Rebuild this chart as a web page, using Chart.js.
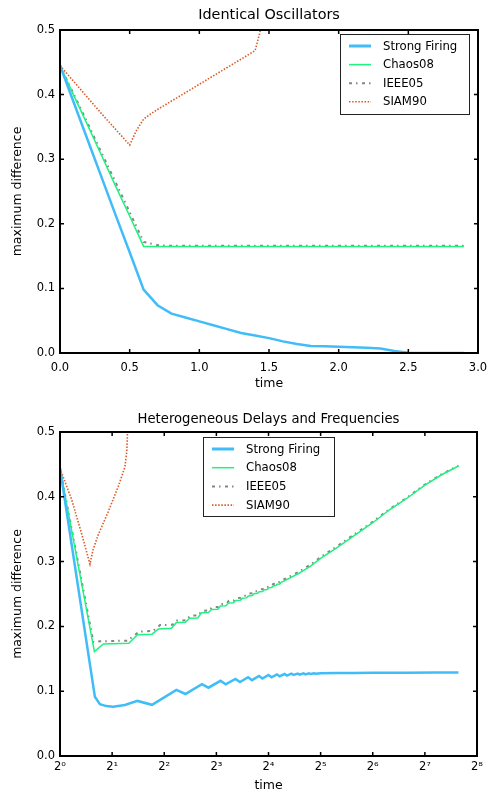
<!DOCTYPE html>
<html><head><meta charset="utf-8">
<script src="https://cdn.jsdelivr.net/npm/chart.js@4.4.1/dist/chart.umd.min.js"></script>
<style>
html,body{margin:0;padding:0;background:#fff;}
#c1{position:absolute;left:0;top:0;}
#c2{position:absolute;left:0;top:400px;}
</style></head><body>
<canvas id="c1" width="490" height="400"></canvas>
<canvas id="c2" width="490" height="393"></canvas>
<script>
// ---------- DATA: top chart (Identical Oscillators) ----------
const seriesNames = ['Strong Firing', 'Chaos08', 'IEEE05', 'SIAM90'];
const topTitle = 'Identical Oscillators';
const botTitle = 'Heterogeneous Delays and Frequencies';

const topTime = [0,0.1,0.2,0.3,0.4,0.5,0.6,0.7,0.8,0.9,1.0,1.1,1.2,1.3,1.4,1.5,1.6,1.7,1.8,1.9,2.0,2.1,2.2,2.3,2.4,2.5,2.6,2.7,2.8,2.9];
const topStrong = [0.445,0.387,0.329,0.271,0.213,0.156,0.098,0.074,0.061,0.055,0.049,0.043,0.037,0.031,0.027,0.023,0.018,0.014,0.011,0.0105,0.0097,0.0088,0.008,0.007,0.003,0.0005,0,0,0,0];
const topChaos = [0.445,0.398,0.352,0.305,0.258,0.212,0.165,0.165,0.165,0.165,0.165,0.165,0.165,0.165,0.165,0.165,0.165,0.165,0.165,0.165,0.165,0.165,0.165,0.165,0.165,0.165,0.165,0.165,0.165,0.165];
const topIEEE = [0.445,0.400,0.355,0.309,0.264,0.218,0.172,0.167,0.166,0.166,0.166,0.166,0.166,0.166,0.166,0.166,0.166,0.166,0.166,0.166,0.166,0.166,0.166,0.166,0.166,0.166,0.166,0.166,0.166,0.166];
const topSIAMTime = [0,0.1,0.2,0.3,0.4,0.5,0.55,0.6,0.65,0.7,0.8,0.9,1.0,1.1,1.2,1.3,1.4,1.5];
const topSIAM = [0.445,0.420,0.395,0.370,0.346,0.322,0.345,0.362,0.370,0.377,0.390,0.403,0.416,0.429,0.442,0.455,0.468,0.55];
const topXTicks = [0,0.5,1.0,1.5,2.0,2.5,3.0];
const topYTicks = [0,0.1,0.2,0.3,0.4,0.5];

// ---------- DATA: bottom chart (Heterogeneous Delays and Frequencies) ----------
const botStrongT = [1,1.59,1.7,1.85,2.03,2.37,2.8,3.4,4.7,5.3,6.6,7.2,8.45,9.05,10.3,10.95,12.2,12.85,14.1,14.75,16.0,16.65,17.9,18.55,19.8,20.45,21.7,22.35,23.6,24.25,25.5,26.15,27.4,28.05,29.3,29.95,32,40,50,64,100,150,200];
const botStrong = [0.444,0.0915,0.080,0.077,0.076,0.0787,0.085,0.079,0.102,0.0957,0.111,0.1054,0.116,0.1106,0.119,0.114,0.1215,0.117,0.1235,0.1195,0.125,0.1215,0.126,0.123,0.1265,0.124,0.127,0.125,0.1272,0.1255,0.1275,0.126,0.1277,0.1265,0.1278,0.127,0.1278,0.128,0.128,0.1283,0.1285,0.1287,0.1288];

const botChaosT = [1,1.58,1.78,2.5,2.8,3.4,3.7,4.4,4.7,5.3,5.6,6.25,6.55,7.2,7.5,8.15,8.45,9.1,9.4,10.05,10.35,11.0,11.3,11.95,12.25,12.9,13.2,13.85,14.15,14.8,15.1,15.75,16.05,16.7,17.0,17.65,17.95,18.6,18.9,20,24,28,32,40,50,64,80,100,128,160,200];
const botChaos = [0.444,0.161,0.173,0.174,0.187,0.188,0.196,0.197,0.206,0.2065,0.2125,0.213,0.221,0.2215,0.226,0.2265,0.2315,0.232,0.236,0.2365,0.240,0.2405,0.2435,0.244,0.247,0.2475,0.2505,0.251,0.2535,0.254,0.2565,0.257,0.2595,0.260,0.2625,0.263,0.265,0.2655,0.268,0.271,0.282,0.293,0.305,0.322,0.340,0.360,0.380,0.397,0.418,0.434,0.4475];

const botIEEET = [1,1.56,1.7,2.45,2.87,3.45,3.78,4.45,4.75,5.35,5.65,6.3,6.6,7.25,7.55,8.2,8.5,9.15,9.45,10.1,10.4,11.05,11.35,12.0,12.3,12.95,13.25,13.9,14.2,14.85,15.15,15.8,16.1,16.75,17.05,17.7,18.0,18.65,18.95,20,24,28,32,40,50,64,80,100,128,160,200];
const botIEEE = [0.444,0.1755,0.177,0.178,0.192,0.193,0.202,0.2025,0.209,0.2095,0.2165,0.217,0.224,0.2245,0.2295,0.230,0.2345,0.235,0.2395,0.240,0.2435,0.244,0.247,0.2475,0.2505,0.251,0.254,0.2545,0.257,0.2575,0.260,0.2605,0.263,0.2635,0.2655,0.266,0.268,0.2685,0.2705,0.2735,0.2845,0.2955,0.307,0.324,0.342,0.3615,0.381,0.398,0.419,0.435,0.448];

const botSIAMT = [1,1.17,1.33,1.49,1.55,1.66,1.9,2.17,2.37,2.43,2.47];
const botSIAM = [0.444,0.395,0.344,0.296,0.318,0.341,0.377,0.416,0.446,0.470,0.52];

const botXTickVals = [1,2,4,8,16,32,64,128,256];
const botXTickLabels = ['2⁰','2¹','2²','2³','2⁴','2⁵','2⁶','2⁷','2⁸'];
const botYTicks = [0,0.1,0.2,0.3,0.4,0.5];

// ---------- STYLES ----------
const FONT = 'DejaVu Sans';
Chart.defaults.font.family = FONT;
Chart.defaults.color = '#000';
const styles = [
  {borderColor:'#40bdf8', borderWidth:2.5, borderDash:[]},
  {borderColor:'#1ef27f', borderWidth:1.5, borderDash:[]},
  {borderColor:'#858585', borderWidth:2, borderDash:[3,4,1.5,4.5]},
  {borderColor:'#db5a26', borderWidth:1.6, borderDash:[1.5,1.6]}
];
function pts(xs, ys){ return xs.map((x,i)=>({x:x, y:ys[i]})); }
function mkDatasets(list){
  return list.map((d,i)=>Object.assign({label:seriesNames[i], data:pts(d[0],d[1]), pointRadius:0, tension:0, fill:false}, styles[i]));
}

const framePlugin = {
  id:'frame',
  afterDatasetsDraw(chart){
    const {ctx, chartArea:a, scales} = chart;
    ctx.save();
    ctx.strokeStyle = '#000';
    ctx.lineWidth = 1.5;
    const L = 4;
    scales.x.ticks.forEach(t=>{
      const px = scales.x.getPixelForValue(t.value);
      ctx.beginPath();
      ctx.moveTo(px, a.bottom); ctx.lineTo(px, a.bottom-L);
      ctx.moveTo(px, a.top); ctx.lineTo(px, a.top+L);
      ctx.stroke();
    });
    scales.y.ticks.forEach(t=>{
      const py = scales.y.getPixelForValue(t.value);
      ctx.beginPath();
      ctx.moveTo(a.left, py); ctx.lineTo(a.left+L, py);
      ctx.moveTo(a.right, py); ctx.lineTo(a.right-L, py);
      ctx.stroke();
    });
    ctx.lineWidth = 2;
    ctx.strokeRect(a.left, a.top, a.right-a.left, a.bottom-a.top);
    ctx.restore();
  }
};
const boxLegend = {
  id:'boxLegend',
  afterDraw(chart, args, o){
    const ctx = chart.ctx;
    ctx.save();
    ctx.fillStyle = '#fff';
    ctx.fillRect(o.x, o.y, o.w, o.h);
    ctx.strokeStyle = '#222'; ctx.lineWidth = 1;
    ctx.strokeRect(o.x+0.5, o.y+0.5, o.w, o.h);
    ctx.font = o.font;
    ctx.textBaseline = 'middle';
    chart.data.datasets.forEach((ds,i)=>{
      const y = o.y + o.row0 + i*o.rowH;
      ctx.strokeStyle = ds.borderColor;
      ctx.lineWidth = ds.borderWidth + (i===0?0.5:0);
      ctx.setLineDash(ds.borderDash || []);
      ctx.beginPath(); ctx.moveTo(o.x+9, y); ctx.lineTo(o.x+31, y); ctx.stroke();
      ctx.setLineDash([]);
      ctx.fillStyle = '#000';
      ctx.fillText(ds.label, o.x+43, y+0.5);
    });
    ctx.restore();
  }
};
const titlePlugin = {
  id:'ptitle',
  afterDraw(chart, args, o){
    const {ctx, chartArea:a} = chart;
    ctx.save();
    ctx.font = o.font; ctx.fillStyle = '#000';
    ctx.textAlign = 'center'; ctx.textBaseline = 'middle';
    ctx.fillText(o.text, (a.left+a.right)/2, o.y);
    ctx.restore();
  }
};

const tickFont = {family:FONT, size:11.5};
const labelFont = {family:FONT, size:12.5};

function yScale(ticksArr, width){
  return {
    type:'linear', min:0, max:0.5,
    afterBuildTicks: s=>{ s.ticks = ticksArr.map(v=>({value:v})); },
    ticks:{callback:v=>Number(v).toFixed(1), font:tickFont, color:'#000', padding:5, autoSkip:false},
    grid:{display:false, drawTicks:false}, border:{display:false},
    title:{display:true, text:'maximum difference', font:labelFont, color:'#000', padding:{top:10.5, bottom:0}},
    afterFit: s=>{ s.width = width; s.paddingTop = 0; s.paddingBottom = 0; }
  };
}

// ---------- TOP CHART ----------
new Chart(document.getElementById('c1'), {
  type:'line',
  data:{datasets: mkDatasets([[topTime,topStrong],[topTime,topChaos],[topTime,topIEEE],[topSIAMTime,topSIAM]])},
  options:{
    responsive:false, animation:false,
    layout:{padding:{left:0, right:12, top:30, bottom:0}},
    plugins:{
      legend:{display:false}, tooltip:{enabled:false}, title:{display:false},
      ptitle:{text:topTitle, y:15, font:'14.4px "DejaVu Sans"'},
      boxLegend:{x:340, y:34, w:129, h:80, row0:12, rowH:18.6, font:'11.7px "DejaVu Sans"'}
    },
    scales:{
      x:{
        type:'linear', min:0, max:3,
        afterBuildTicks: s=>{ s.ticks = topXTicks.map(v=>({value:v})); },
        ticks:{callback:v=>Number(v).toFixed(1), font:tickFont, color:'#000', padding:8, maxRotation:0, autoSkip:false},
        grid:{display:false, drawTicks:false}, border:{display:false},
        title:{display:true, text:'time', font:labelFont, color:'#000', padding:{top:0, bottom:8.5}},
        afterFit: s=>{ s.height = 47; s.paddingLeft = 0; s.paddingRight = 0; }
      },
      y: yScale(topYTicks, 60)
    }
  },
  plugins:[framePlugin, boxLegend, titlePlugin]
});

// ---------- BOTTOM CHART ----------
new Chart(document.getElementById('c2'), {
  type:'line',
  data:{datasets: mkDatasets([[botStrongT,botStrong],[botChaosT,botChaos],[botIEEET,botIEEE],[botSIAMT,botSIAM]])},
  options:{
    responsive:false, animation:false,
    layout:{padding:{left:0, right:13, top:32, bottom:0}},
    plugins:{
      legend:{display:false}, tooltip:{enabled:false}, title:{display:false},
      ptitle:{text:botTitle, y:20, font:'13.2px "DejaVu Sans"'},
      boxLegend:{x:203, y:37, w:131, h:79, row0:12, rowH:18.7, font:'11.7px "DejaVu Sans"'}
    },
    scales:{
      x:{
        type:'logarithmic', min:1, max:256,
        afterBuildTicks: s=>{ s.ticks = botXTickVals.map(v=>({value:v})); },
        ticks:{callback:(v)=>{ const i = botXTickVals.indexOf(v); return i>=0 ? botXTickLabels[i] : ''; }, font:tickFont, color:'#000', padding:4, maxRotation:0, autoSkip:false},
        grid:{display:false, drawTicks:false}, border:{display:false},
        title:{display:true, text:'time', font:labelFont, color:'#000', padding:{top:0, bottom:0}},
        afterFit: s=>{ s.height = 37; s.paddingLeft = 0; s.paddingRight = 0; }
      },
      y: yScale(botYTicks, 60)
    }
  },
  plugins:[framePlugin, boxLegend, titlePlugin]
});
</script></body></html>
